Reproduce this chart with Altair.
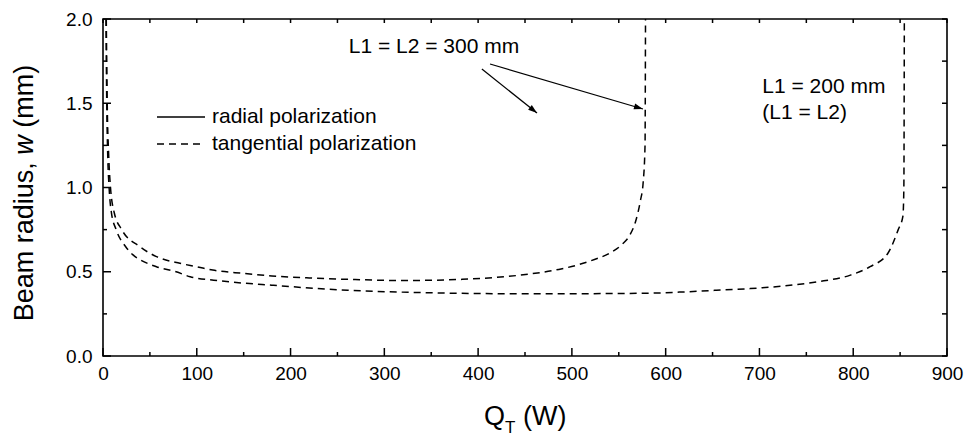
import math
import altair as alt
import pandas as pd

FONT = "Liberation Sans"

# ---- data ----
series_names = ["L1 = L2 = 300 mm", "L1 = 200 mm"]
q300 = [3.5, 4.5, 6, 8, 12, 20, 39, 57, 82, 100, 117, 150, 180, 220, 261, 322, 383, 445, 486, 506,
        520, 540, 553, 562, 568, 573, 576, 578, 578.5]
w300 = [2.0, 1.5, 1.2, 1.0, 0.85, 0.75, 0.65, 0.59, 0.55, 0.53, 0.51, 0.49, 0.475, 0.463, 0.455, 0.448,
        0.455, 0.48, 0.514, 0.54, 0.565, 0.61, 0.66, 0.72, 0.8, 0.92, 1.03, 1.25, 2.0]
q200 = [3.2, 4, 5, 6.5, 9, 14, 24, 32, 40, 57, 78, 93, 118, 135, 180, 261, 343, 424, 506, 583,
        618, 654, 690, 725, 761, 797, 818, 837, 848, 853, 854, 854.5]
w200 = [2.0, 1.5, 1.2, 1.0, 0.85, 0.75, 0.65, 0.60, 0.57, 0.53, 0.50, 0.47, 0.45, 0.44, 0.42, 0.39,
        0.376, 0.37, 0.37, 0.373, 0.38, 0.39, 0.40, 0.415, 0.44, 0.48, 0.53, 0.61, 0.75, 0.83, 1.0, 2.0]

x_major = [0, 100, 200, 300, 400, 500, 600, 700, 800, 900]
x_minor = [50, 150, 250, 350, 450, 550, 650, 750, 850]
y_major = [0.0, 0.5, 1.0, 1.5, 2.0]
y_minor = [0.25, 0.75, 1.25, 1.75]

legend_labels = ["radial polarization", "tangential polarization"]

ann_text = ["L1 = L2 = 300 mm", "L1 = 200 mm", "(L1 = L2)"]
ann_q = [262, 703, 703]
ann_w = [1.834, 1.596, 1.442]

arrow_q1 = [404, 412.7]
arrow_w1 = [1.703, 1.733]
arrow_q2 = [462.8, 575.8]
arrow_w2 = [1.442, 1.466]

# ---- layout ----
W, H = 844, 337
XMAX, YMAX = 900, 2.0

curve_df = pd.concat([
    pd.DataFrame({"Q": q300, "w": w300, "series": series_names[0]}),
    pd.DataFrame({"Q": q200, "w": w200, "series": series_names[1]}),
])

xscale = alt.Scale(domain=[0, XMAX], nice=False, zero=False)
yscale = alt.Scale(domain=[0, YMAX], nice=False, zero=False)
xaxis = alt.Axis(values=x_major, format="d", labelFontSize=19, labelPadding=8, ticks=False, tickSize=0,
                 domain=False, grid=False, title=None, labelFlush=False, labelOverlap=False,
                 labelColor="black", labelFont=FONT)
yaxis = alt.Axis(values=y_major, format=".1f", labelFontSize=19, labelPadding=11, ticks=False, tickSize=0,
                 domain=False, grid=False, title=None, labelFlush=False, labelOverlap=False,
                 labelColor="black", labelFont=FONT)

def X(f):
    return alt.X(f, scale=xscale, axis=xaxis)

def Y(f):
    return alt.Y(f, scale=yscale, axis=yaxis)

curves = alt.Chart(curve_df).mark_line(
    color="black", strokeWidth=1.5, strokeDash=[7, 5], clip=True, interpolate="monotone"
).encode(x=X("Q:Q"), y=Y("w:Q"), detail="series:N", order="Q:Q")

def xticks(vals, y0, y1):
    return alt.Chart(pd.DataFrame({"Q": vals})).mark_rule(color="black", strokeWidth=1.5).encode(
        x=X("Q:Q"), y=alt.value(y0), y2=alt.value(y1))

def yticks(vals, x0, x1):
    return alt.Chart(pd.DataFrame({"w": vals})).mark_rule(color="black", strokeWidth=1.5).encode(
        y=Y("w:Q"), x=alt.value(x0), x2=alt.value(x1))

ticks = [
    xticks(x_major, H, H - 8), xticks(x_minor, H, H - 4),
    xticks(x_major + x_minor, 0, 4),
    yticks(y_major, 0, 8), yticks(y_minor, 0, 4),
    yticks(y_major + y_minor, W, W - 5),
]

# legend (manual)
leg_solid = alt.Chart(pd.DataFrame({"a": [0]})).mark_rule(color="black", strokeWidth=1.5).encode(
    x=alt.value(54), x2=alt.value(102), y=alt.value(98))
leg_dash = alt.Chart(pd.DataFrame({"a": [0]})).mark_rule(
    color="black", strokeWidth=1.5, strokeDash=[7, 5]).encode(
    x=alt.value(54), x2=alt.value(102), y=alt.value(125))
leg_texts = [
    alt.Chart(pd.DataFrame({"t": [lab]})).mark_text(
        align="left", baseline="middle", font=FONT, fontSize=21, color="black").encode(
        text="t:N", x=alt.value(109), y=alt.value(yy))
    for lab, yy in zip(legend_labels, [98, 125])
]

# annotations
ann = alt.Chart(pd.DataFrame({"Q": ann_q, "w": ann_w, "t": ann_text})).mark_text(
    align="left", baseline="middle", font=FONT, fontSize=21, color="black").encode(
    x=X("Q:Q"), y=Y("w:Q"), text="t:N")

sx, sy = W / XMAX, H / YMAX
angles = [math.degrees(math.atan2(-(b2 - b1) * sy, (a2 - a1) * sx))
          for a1, b1, a2, b2 in zip(arrow_q1, arrow_w1, arrow_q2, arrow_w2)]
arrow_df = pd.DataFrame({"Q": arrow_q1, "w": arrow_w1, "Q2": arrow_q2, "w2": arrow_w2, "ang": angles})
arrow_lines = alt.Chart(arrow_df).mark_rule(color="black", strokeWidth=1.2).encode(
    x=X("Q:Q"), y=Y("w:Q"), x2="Q2:Q", y2="w2:Q")
arrow_heads = alt.Chart(arrow_df).mark_point(
    shape="M0,0L-1,-0.33L-1,0.33Z", filled=True, color="black", size=324, opacity=1).encode(
    x=X("Q2:Q"), y=Y("w2:Q"), angle=alt.Angle("ang:Q", scale=None))

# y title with italic w (SVG drops leading/trailing spaces, so pieces are placed separately)
YT = 27
y_pieces = [("Beam radius,", "normal", 302.3), ("w", "italic", 135.7), ("(mm)", "normal", 108.7)]
ytitle = [
    alt.Chart(pd.DataFrame({"t": [txt]})).mark_text(
        align="left", baseline="middle", angle=270, font=FONT, fontSize=YT, fontStyle=st,
        color="black").encode(text="t:N", x=alt.value(-78), y=alt.value(yy))
    for txt, st, yy in y_pieces
]

# x title Q_T (W)
x_pieces = [("Q", 27, 381, 406), ("T", 17, 402, 414), ("(W)", 27, 419.9, 406)]
xtitle = [
    alt.Chart(pd.DataFrame({"t": [txt]})).mark_text(
        align="left", baseline="alphabetic", font=FONT, fontSize=fs, color="black").encode(
        text="t:N", x=alt.value(xx), y=alt.value(yy))
    for txt, fs, xx, yy in x_pieces
]

chart = alt.layer(
    curves, *ticks, leg_solid, leg_dash, *leg_texts, ann, arrow_lines, arrow_heads, *ytitle, *xtitle
).properties(
    width=W, height=H,
    background="white",
    autosize=alt.AutoSizeParams(type="none"),
    padding={"left": 103, "top": 19, "right": 22, "bottom": 82},
).configure_view(stroke="black", strokeWidth=1.6)

chart.save("out.html", embed_options={"renderer": "svg", "actions": False})
